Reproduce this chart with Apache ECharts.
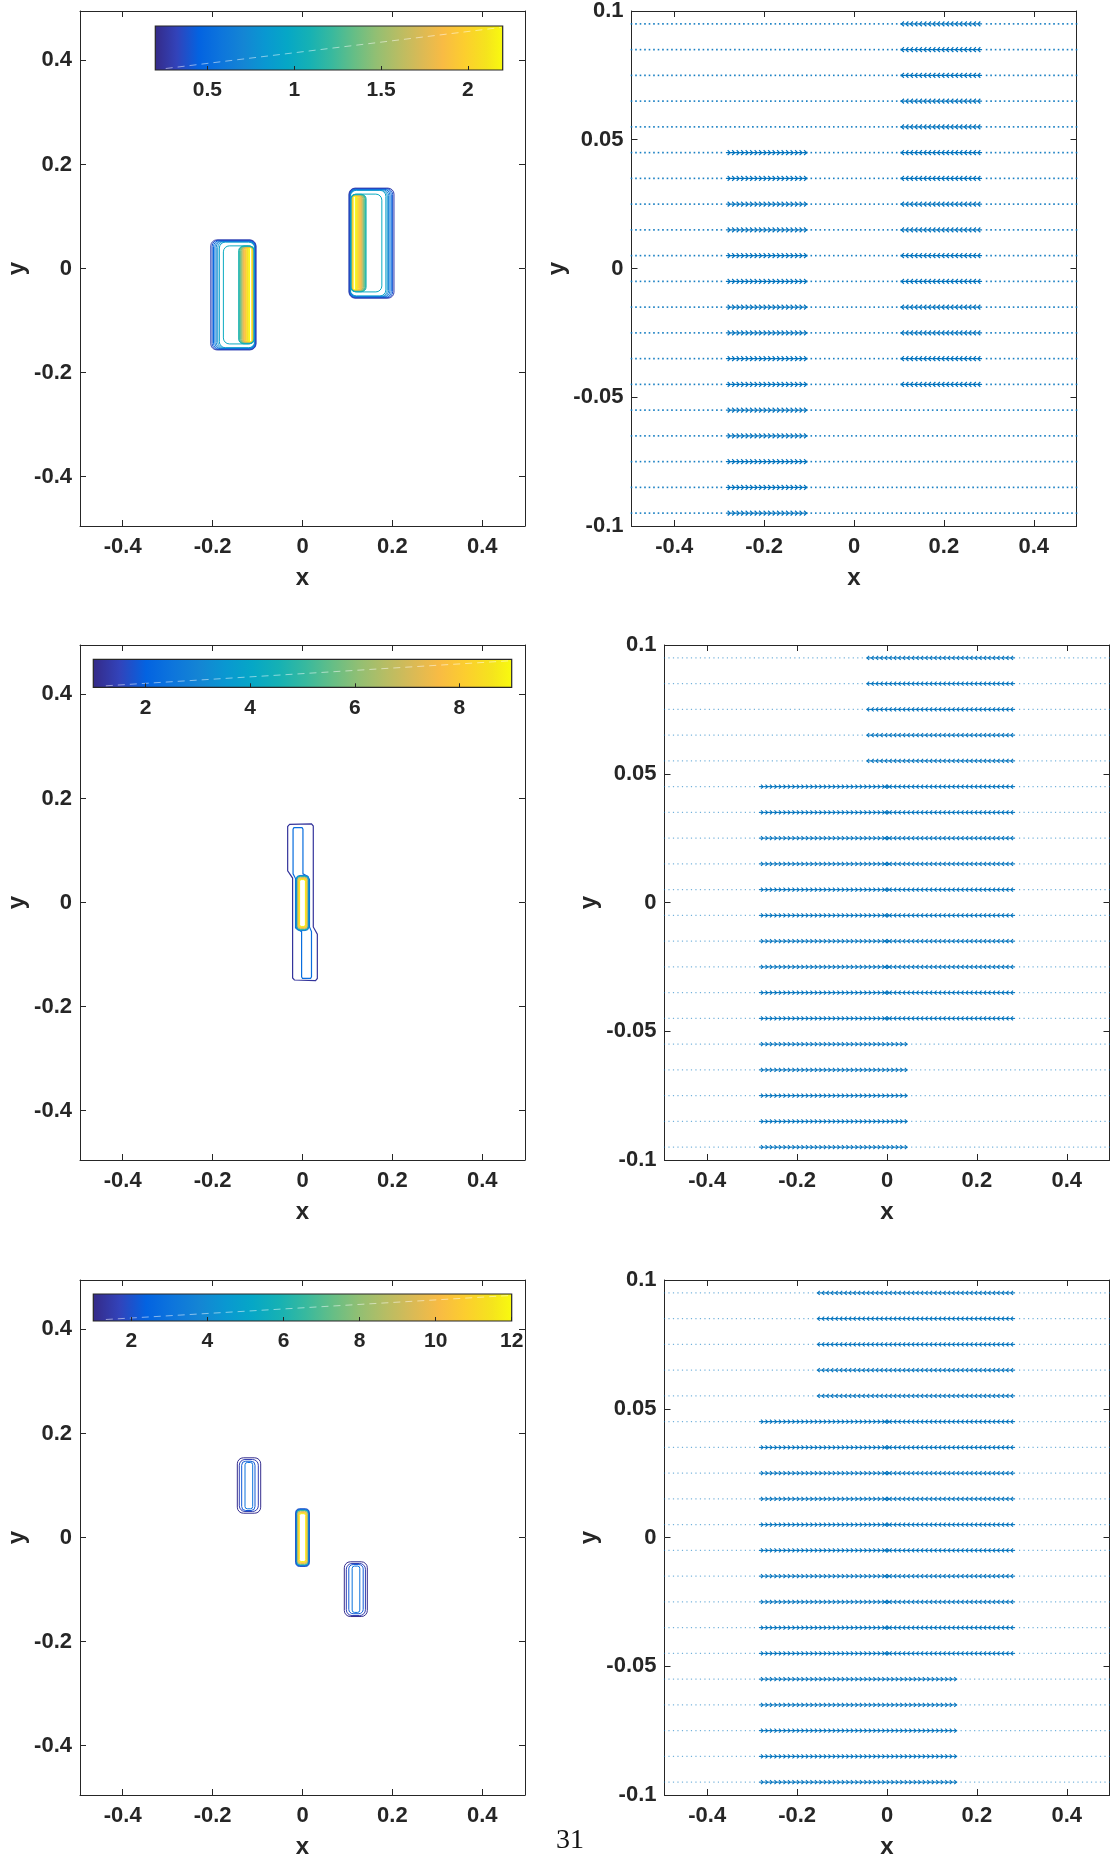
<!DOCTYPE html>
<html>
<head>
<meta charset="utf-8">
<title>Density contours and velocity quiver</title>
<script src="https://cdn.jsdelivr.net/npm/echarts@6/dist/echarts.min.js"></script>
<style>
  html, body { margin: 0; padding: 0; background: #ffffff; }
  #chart { width: 1110px; height: 1860px; }
</style>
</head>
<body>
<div id="chart"></div>
<script>
// ---------- axes ----------
const xTicks = [-0.4, -0.2, 0, 0.2, 0.4];
const yTicksDomain = [-0.4, -0.2, 0, 0.2, 0.4];
const yTicksStrip = [-0.1, -0.05, 0, 0.05, 0.1];
const domainExtent = [-0.495, 0.495];
const stripExtent = [-0.1, 0.1];

// ---------- colour bars ----------
const cbRange1 = [0.2, 2.2];
const cbTicks1 = [0.5, 1, 1.5, 2];
const cbRange2 = [1, 9];
const cbTicks2 = [2, 4, 6, 8];
const cbRange3 = [1, 12];
const cbTicks3 = [2, 4, 6, 8, 10, 12];

// ---------- contour lines, row 1 ----------
// each entry: [level, xLeft, xRight, yBottom, yTop]
const rodA1 = [
  [0.3, -0.2040, -0.1035, -0.1565, 0.0550],
  [0.4, -0.2010, -0.1040, -0.1558, 0.0543],
  [0.5, -0.1980, -0.1045, -0.1551, 0.0536],
  [0.6, -0.1950, -0.1050, -0.1544, 0.0529],
  [0.7, -0.1920, -0.1055, -0.1537, 0.0522],
  [0.8, -0.1885, -0.1060, -0.1530, 0.0515],
  [0.9, -0.1850, -0.1065, -0.1523, 0.0508],
  [1.0, -0.1760, -0.1069, -0.1450, 0.0435],
  [1.1, -0.1420, -0.1072, -0.1446, 0.0431],
  [1.2, -0.1405, -0.1075, -0.1444, 0.0429],
  [1.3, -0.1390, -0.1078, -0.1442, 0.0427],
  [1.4, -0.1375, -0.1081, -0.1440, 0.0425],
  [1.5, -0.1360, -0.1084, -0.1438, 0.0423],
  [1.6, -0.1345, -0.1087, -0.1436, 0.0421],
  [1.7, -0.1330, -0.1090, -0.1434, 0.0419],
  [1.8, -0.1315, -0.1093, -0.1432, 0.0417],
  [1.85, -0.1300, -0.1096, -0.1430, 0.0415],
  [1.9, -0.1285, -0.1099, -0.1428, 0.0413],
  [1.95, -0.1270, -0.1102, -0.1426, 0.0411],
  [2.0, -0.1255, -0.1105, -0.1424, 0.0409],
  [2.05, -0.1240, -0.1108, -0.1422, 0.0407],
  [2.1, -0.1225, -0.1111, -0.1420, 0.0405],
  [2.13, -0.1210, -0.1115, -0.1418, 0.0403],
  [2.16, -0.1195, -0.1120, -0.1416, 0.0401],
  [2.19, -0.1180, -0.1125, -0.1414, 0.0399]
];
const rodB1 = [
  [0.3, 0.1035, 0.2035, -0.0570, 0.1545],
  [0.4, 0.1040, 0.2005, -0.0563, 0.1538],
  [0.5, 0.1045, 0.1975, -0.0556, 0.1531],
  [0.6, 0.1050, 0.1945, -0.0549, 0.1524],
  [0.7, 0.1055, 0.1915, -0.0542, 0.1517],
  [0.8, 0.1060, 0.1885, -0.0535, 0.1510],
  [0.9, 0.1065, 0.1855, -0.0528, 0.1503],
  [1.0, 0.1069, 0.1765, -0.0450, 0.1430],
  [1.1, 0.1072, 0.1415, -0.0446, 0.1426],
  [1.2, 0.1075, 0.1400, -0.0444, 0.1424],
  [1.3, 0.1078, 0.1385, -0.0442, 0.1422],
  [1.4, 0.1081, 0.1370, -0.0440, 0.1420],
  [1.5, 0.1084, 0.1355, -0.0438, 0.1418],
  [1.6, 0.1087, 0.1340, -0.0436, 0.1416],
  [1.7, 0.1090, 0.1325, -0.0434, 0.1414],
  [1.8, 0.1093, 0.1310, -0.0432, 0.1412],
  [1.85, 0.1096, 0.1295, -0.0430, 0.1410],
  [1.9, 0.1099, 0.1280, -0.0428, 0.1408],
  [1.95, 0.1102, 0.1265, -0.0426, 0.1406],
  [2.0, 0.1105, 0.1250, -0.0424, 0.1404],
  [2.05, 0.1108, 0.1235, -0.0422, 0.1402],
  [2.1, 0.1111, 0.1220, -0.0420, 0.1400],
  [2.13, 0.1115, 0.1205, -0.0418, 0.1398],
  [2.16, 0.1120, 0.1190, -0.0416, 0.1396],
  [2.19, 0.1125, 0.1175, -0.0414, 0.1394]
];

// ---------- contour lines, row 2 ----------
const blobOuter2 = [[-0.029, 0.150], [0.020, 0.151], [0.024, 0.147], [0.024, -0.047], [0.033, -0.061],
  [0.033, -0.146], [0.029, -0.150], [-0.018, -0.149], [-0.022, -0.145], [-0.022, 0.047],
  [-0.033, 0.061], [-0.033, 0.146]];
const blobInner2 = [[-0.019, 0.144], [-0.001, 0.144], [0.001, 0.141], [0.001, 0.055], [0.012, 0.050],
  [0.0155, 0.044], [0.0155, -0.047], [0.020, -0.056], [0.020, -0.143], [0.018, -0.146],
  [0.000, -0.146], [-0.002, -0.143], [-0.002, -0.056], [-0.0155, -0.049], [-0.0155, 0.046],
  [-0.021, 0.055], [-0.021, 0.141]];
const blobLevels2 = [1.2, 2.3];
const blobCore2 = [
  [3.0, -0.0142, 0.0142, -0.0540, 0.0520],
  [4.0, -0.0136, 0.0136, -0.0532, 0.0512],
  [5.0, -0.0130, 0.0130, -0.0524, 0.0504],
  [6.0, -0.0123, 0.0123, -0.0516, 0.0496],
  [7.0, -0.0113, 0.0113, -0.0506, 0.0486],
  [7.6, -0.0103, 0.0103, -0.0496, 0.0476],
  [8.0, -0.0093, 0.0093, -0.0486, 0.0466],
  [8.4, -0.0083, 0.0083, -0.0476, 0.0456],
  [8.7, -0.0073, 0.0073, -0.0468, 0.0448],
  [8.9, -0.0064, 0.0064, -0.0460, 0.0440]
];

// ---------- contour lines, row 3 ----------
const rodUpper3 = [
  [1.1, -0.1450, -0.0930, 0.0467, 0.1532],
  [1.6, -0.1406, -0.0983, 0.0500, 0.1499],
  [2.2, -0.1353, -0.1057, 0.0519, 0.1466],
  [3.0, -0.1279, -0.1108, 0.0552, 0.1442]
];
const rodCentre3 = [
  [2.0, -0.0152, 0.0152, -0.0556, 0.0552],
  [3.0, -0.0147, 0.0147, -0.0548, 0.0544],
  [4.5, -0.0141, 0.0141, -0.0540, 0.0536],
  [6.0, -0.0134, 0.0134, -0.0532, 0.0528],
  [7.5, -0.0125, 0.0125, -0.0522, 0.0518],
  [9.0, -0.0114, 0.0114, -0.0510, 0.0506],
  [10.0, -0.0103, 0.0103, -0.0498, 0.0494],
  [10.8, -0.0092, 0.0092, -0.0486, 0.0482],
  [11.4, -0.0082, 0.0082, -0.0474, 0.0470],
  [11.8, -0.0072, 0.0072, -0.0462, 0.0458]
];
const rodLower3 = [
  [1.1, 0.0930, 0.1442, -0.1519, -0.0467],
  [1.6, 0.0975, 0.1400, -0.1500, -0.0500],
  [2.2, 0.1030, 0.1350, -0.1465, -0.0520],
  [3.0, 0.1105, 0.1275, -0.1440, -0.0550]
];

// ---------- velocity field ----------
// sampling grid: cell centres, 0.01 apart
const quiverRows = [-0.095, -0.085, -0.075, -0.065, -0.055, -0.045, -0.035, -0.025, -0.015, -0.005,
  0.005, 0.015, 0.025, 0.035, 0.045, 0.055, 0.065, 0.075, 0.085, 0.095];
const quiverColStart = -0.495;
const quiverColStep = 0.01;
const quiverColCount = 100;
// regions of unit horizontal velocity: [yFrom, yTo, xFrom, xTo, u]
const flowBlocks1 = [
  [-0.095, 0.045, -0.285, -0.115, 1],
  [-0.045, 0.095, 0.115, 0.285, -1]
];
const flowBlocks2 = [
  [0.055, 0.095, -0.035, 0.285, -1],
  [-0.045, 0.045, -0.285, -0.005, 1],
  [-0.045, 0.045, 0.005, 0.285, -1],
  [-0.095, -0.055, -0.285, 0.035, 1]
];
const flowBlocks3 = [
  [0.055, 0.095, -0.145, 0.285, -1],
  [-0.045, 0.045, -0.285, -0.005, 1],
  [-0.045, 0.045, 0.005, 0.285, -1],
  [-0.095, -0.055, -0.285, 0.145, 1]
];

// ---------- parula colour map ----------
const parulaColors = ['#352A87', '#3243BA', '#0363E1', '#0D75DC', '#1485D4', '#0998D1', '#06A7C6',
  '#16B1B4', '#38B99E', '#65BE86', '#92BF73', '#B7BD64', '#D9BA56', '#F8BB44', '#FCCE2E', '#F5E41D', '#F9FB0E'];
const parulaPos = parulaColors.map((c, i) => (i < parulaColors.length - 1 ? (i * 4) / 63 : 1));
const parulaRgb = parulaColors.map(h => [parseInt(h.slice(1, 3), 16), parseInt(h.slice(3, 5), 16), parseInt(h.slice(5, 7), 16)]);
function parula(t) {
  t = Math.max(0, Math.min(1, t));
  for (let i = 1; i < parulaPos.length; i++) {
    if (t <= parulaPos[i]) {
      const f = (t - parulaPos[i - 1]) / (parulaPos[i] - parulaPos[i - 1]);
      const a = parulaRgb[i - 1], b = parulaRgb[i];
      return 'rgb(' + a.map((v, k) => Math.round(v + (b[k] - v) * f)).join(',') + ')';
    }
  }
  return parulaColors[parulaColors.length - 1];
}
const parulaGradientStops = parulaColors.map((c, i) => ({ offset: parulaPos[i], color: c }));

// ---------- styling ----------
const FONT = '"Liberation Sans", Arial, Helvetica, sans-serif';
const INK = '#262626';
const ARROW = '#0072BD';
const fmt = v => String(Math.round(v * 1000) / 1000);

const grids = [
  { left: 80, top: 11, width: 445, height: 515 },
  { left: 631.5, top: 11, width: 445, height: 515 },
  { left: 80, top: 645, width: 445, height: 515 },
  { left: 664.5, top: 645, width: 445, height: 515 },
  { left: 80, top: 1280, width: 445, height: 515 },
  { left: 664.5, top: 1280, width: 445, height: 515 },
  { left: 155.3, top: 26, width: 347.4, height: 44 },
  { left: 93.3, top: 659.3, width: 418.4, height: 28 },
  { left: 93.3, top: 1294, width: 418.4, height: 27 }
].map(g => Object.assign({ containLabel: false, outerBoundsMode: 'none', show: false }, g));

const xAxes = [];
const yAxes = [];

function frameAxes(gi, yExtent, yTicks, yNameGap) {
  const tick = { show: true, inside: true, length: 6, lineStyle: { color: INK, width: 1 } };
  const line = { show: true, onZero: false, lineStyle: { color: INK, width: 1 } };
  const label = { show: true, fontSize: 22, fontWeight: 'bold', color: INK, fontFamily: FONT, formatter: fmt };
  const nameStyle = { fontSize: 24, fontWeight: 'bold', color: INK, fontFamily: FONT };
  xAxes.push({
    gridIndex: gi, type: 'value', position: 'bottom', min: domainExtent[0], max: domainExtent[1],
    axisLine: line, axisTick: Object.assign({ customValues: xTicks }, tick),
    axisLabel: Object.assign({ customValues: xTicks, margin: 10 }, label),
    splitLine: { show: false },
    name: 'x', nameLocation: 'middle', nameGap: 40, nameTextStyle: nameStyle
  });
  xAxes.push({
    gridIndex: gi, type: 'value', position: 'top', min: domainExtent[0], max: domainExtent[1],
    axisLine: line, axisTick: Object.assign({ customValues: xTicks }, tick),
    axisLabel: { show: false }, splitLine: { show: false }
  });
  yAxes.push({
    gridIndex: gi, type: 'value', position: 'left', min: yExtent[0], max: yExtent[1],
    axisLine: line, axisTick: Object.assign({ customValues: yTicks }, tick),
    axisLabel: Object.assign({ customValues: yTicks, margin: 8 }, label),
    splitLine: { show: false },
    name: 'y', nameLocation: 'middle', nameRotate: 90, nameGap: yNameGap, nameTextStyle: nameStyle
  });
  yAxes.push({
    gridIndex: gi, type: 'value', position: 'right', min: yExtent[0], max: yExtent[1],
    axisLine: line, axisTick: Object.assign({ customValues: yTicks }, tick),
    axisLabel: { show: false }, splitLine: { show: false }
  });
}

function colorbarAxes(gi, range, ticks) {
  xAxes.push({
    gridIndex: gi, type: 'value', position: 'bottom', min: range[0], max: range[1], z: 5,
    axisLine: { show: false }, splitLine: { show: false },
    axisTick: { show: true, inside: true, length: 4, customValues: ticks, lineStyle: { color: INK, width: 1 } },
    axisLabel: { show: true, customValues: ticks, margin: 10, fontSize: 21, fontWeight: 'bold', color: INK, fontFamily: FONT, formatter: fmt }
  });
  yAxes.push({ gridIndex: gi, type: 'value', min: 0, max: 1, show: false });
}

frameAxes(0, domainExtent, yTicksDomain, 51);
frameAxes(1, stripExtent, yTicksStrip, 45);
frameAxes(2, domainExtent, yTicksDomain, 51);
frameAxes(3, stripExtent, yTicksStrip, 63);
frameAxes(4, domainExtent, yTicksDomain, 51);
frameAxes(5, stripExtent, yTicksStrip, 63);
colorbarAxes(6, cbRange1, cbTicks1);
colorbarAxes(7, cbRange2, cbTicks2);
colorbarAxes(8, cbRange3, cbTicks3);

// closed contours drawn as rounded rectangles; inner levels first so the
// outermost (lowest) levels stay on top along the packed rim
function contourRectSeries(gi, data, range) {
  return {
    type: 'custom', xAxisIndex: 2 * gi, yAxisIndex: 2 * gi, silent: true, clip: false, z: 2,
    data: data.slice().reverse(),
    renderItem(params, api) {
      const level = api.value(0);
      const tl = api.coord([api.value(1), api.value(4)]);
      const br = api.coord([api.value(2), api.value(3)]);
      const w = br[0] - tl[0], h = br[1] - tl[1];
      return {
        type: 'rect',
        shape: { x: tl[0], y: tl[1], width: w, height: h, r: Math.min(6, w * 0.3, h * 0.3) },
        style: { fill: 'none', stroke: parula((level - range[0]) / (range[1] - range[0])), lineWidth: 1 }
      };
    }
  };
}

// closed contour drawn as a polygon
function contourPolySeries(gi, polys, levels, range) {
  return {
    type: 'custom', xAxisIndex: 2 * gi, yAxisIndex: 2 * gi, silent: true, clip: false, z: 2,
    data: levels.map((lv, i) => [lv, i]),
    renderItem(params, api) {
      const poly = polys[api.value(1)];
      const level = api.value(0);
      return {
        type: 'polygon',
        shape: { points: poly.map(p => api.coord(p)) },
        style: { fill: 'none', stroke: parula((level - range[0]) / (range[1] - range[0])), lineWidth: 1.2 }
      };
    }
  };
}

function buildField(blocks) {
  const out = [];
  for (const y of quiverRows) {
    for (let i = 0; i < quiverColCount; i++) {
      const x = +(quiverColStart + i * quiverColStep).toFixed(3);
      let u = 0;
      for (const b of blocks) {
        if (y > b[0] - 1e-6 && y < b[1] + 1e-6 && x > b[2] - 1e-6 && x < b[3] + 1e-6) u = b[4];
      }
      out.push([x, y, u]);
    }
  }
  return out;
}

// arrows for moving cells, small dots for still ones
function quiverSeries(gi, blocks, look) {
  return {
    type: 'custom', xAxisIndex: 2 * gi, yAxisIndex: 2 * gi, silent: true, clip: false, z: 2,
    data: buildField(blocks),
    renderItem(params, api) {
      const x = api.value(0), y = api.value(1), u = api.value(2);
      const p = api.coord([x, y]);
      if (u === 0) {
        return {
          type: 'rect',
          shape: { x: p[0] - look.dot / 2, y: p[1] - look.dot / 2, width: look.dot, height: look.dot },
          style: { fill: look.dotColor }
        };
      }
      const q = api.coord([x + u * 0.0095, y]);
      const hx = look.headX * u, hy = look.headY;
      return {
        type: 'group',
        children: [
          { type: 'line', shape: { x1: p[0], y1: p[1], x2: q[0], y2: q[1] }, style: { stroke: ARROW, lineWidth: look.width } },
          {
            type: 'polyline',
            shape: { points: [[q[0] - hx, q[1] - hy], [q[0], q[1]], [q[0] - hx, q[1] + hy]] },
            style: { stroke: ARROW, lineWidth: look.width, fill: 'none' }
          }
        ]
      };
    }
  };
}

function colorbarSeries(axisIndex, range) {
  return {
    type: 'custom', xAxisIndex: axisIndex, yAxisIndex: axisIndex, silent: true, clip: false, z: 1,
    data: [[range[0], range[1]]],
    renderItem(params, api) {
      const a = api.coord([api.value(0), 1]);
      const b = api.coord([api.value(1), 0]);
      const w = b[0] - a[0], h = b[1] - a[1];
      return {
        type: 'group',
        children: [
          {
            type: 'rect', shape: { x: a[0], y: a[1], width: w, height: h },
            style: { fill: new echarts.graphic.LinearGradient(0, 0, 1, 0, parulaGradientStops), stroke: INK, lineWidth: 1.2 }
          },
          {
            type: 'line', shape: { x1: a[0] + w * 0.03, y1: b[1] - 1.5, x2: b[0] - 2, y2: a[1] + 1.5 },
            style: { stroke: 'rgba(255,255,255,0.5)', lineWidth: 1, lineDash: [7, 5] }
          }
        ]
      };
    }
  };
}

const lookTop = { dot: 1.6, dotColor: 'rgba(0,114,189,0.9)', headX: 2.5, headY: 2.4, width: 1.2 };
const lookLower = { dot: 1.2, dotColor: 'rgba(0,114,189,0.55)', headX: 2.2, headY: 2.0, width: 1.1 };

const series = [
  contourRectSeries(0, rodA1, cbRange1),
  contourRectSeries(0, rodB1, cbRange1),
  contourPolySeries(2, [blobOuter2, blobInner2], blobLevels2, cbRange2),
  contourRectSeries(2, blobCore2, cbRange2),
  contourRectSeries(4, rodUpper3, cbRange3),
  contourRectSeries(4, rodCentre3, cbRange3),
  contourRectSeries(4, rodLower3, cbRange3),
  quiverSeries(1, flowBlocks1, lookTop),
  quiverSeries(3, flowBlocks2, lookLower),
  quiverSeries(5, flowBlocks3, lookLower),
  colorbarSeries(12, cbRange1),
  colorbarSeries(13, cbRange2),
  colorbarSeries(14, cbRange3)
];

const chart = echarts.init(document.getElementById('chart'), null, { renderer: 'canvas', width: 1110, height: 1860 });
chart.setOption({
  backgroundColor: '#ffffff',
  animation: false,
  grid: grids,
  xAxis: xAxes,
  yAxis: yAxes,
  series: series,
  graphic: [{
    type: 'text', x: 570, y: 1841, silent: true,
    style: { text: '31', fontSize: 28, fontFamily: '"Liberation Serif", "DejaVu Serif", serif', fill: '#111111', align: 'center', verticalAlign: 'middle' }
  }]
});
</script>
</body>
</html>
